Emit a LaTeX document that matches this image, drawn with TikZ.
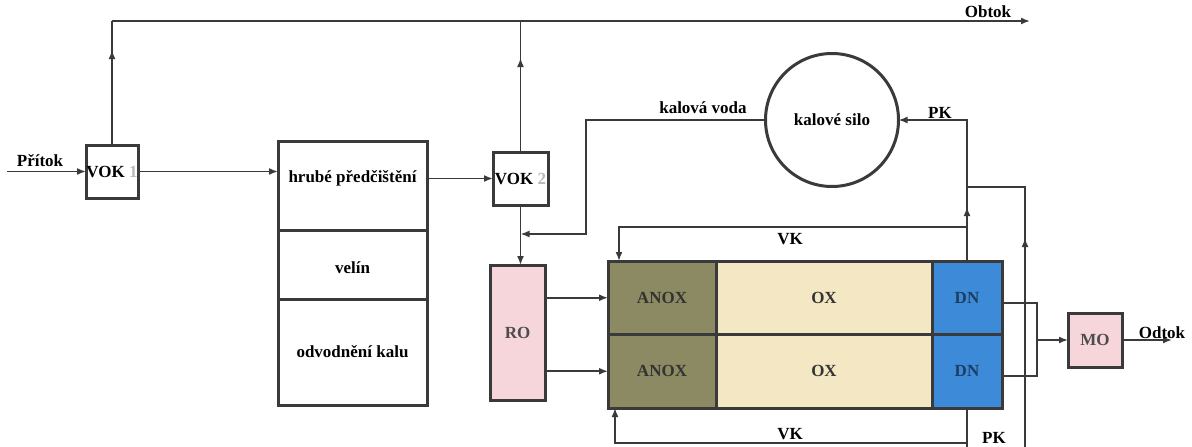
\documentclass[tikz,border=0pt]{standalone}
\usepackage{fontspec}
\setmainfont{Liberation Serif}
\usetikzlibrary{arrows.meta,decorations.markings,calc}
\definecolor{ln}{HTML}{3A3A3A}
\definecolor{anoxc}{HTML}{8C8A62}
\definecolor{oxc}{HTML}{F4E8C4}
\definecolor{dnc}{HTML}{3D8AD8}
\definecolor{pinkc}{HTML}{F7D6DB}
\begin{document}
\begin{tikzpicture}[x=1pt,y=-1pt,
  font=\fontsize{17}{19}\selectfont\bfseries,
  box/.style={draw=ln, line width=3pt, inner sep=0pt, outer sep=0pt, fill=white},
  conn/.style={draw=ln, line width=1.7pt},
  arr/.style={conn, -{Latex[length=9pt,width=7pt]}},
  midarrow/.style={postaction={decorate}, decoration={markings, mark=at position #1 with {\arrow{Latex[length=9pt,width=7pt]}}}},
  lbl/.style={anchor=base, inner sep=0pt}
]
\useasboundingbox (0,0) rectangle (1192,447);

% boxes
\node[box, minimum width=52pt, minimum height=53pt] (vok1) at (112,171.5) {VOK \textcolor{gray!55}{1}};
\node[box, minimum width=149pt, minimum height=89pt] (hrube) at (352.5,185.5) {};
\node[box, minimum width=149pt, minimum height=69pt] (velin) at (352.5,264.5) {};
\node[box, minimum width=149pt, minimum height=106pt] (odv) at (352.5,352) {};
\node (thrube) at (352.5,178) {hrubé předčištění};
\node (tvelin) at (352.5,268) {velín};
\node (todv) at (352.5,352) {odvodnění kalu};
\node[box, minimum width=55pt, minimum height=53pt] (vok2) at (520.5,178.5) {VOK \textcolor{gray!55}{2}};
\node[box, fill=pinkc, minimum width=55pt, minimum height=135pt, text=black!70] (ro) at (517.5,332.5) {RO};
\node[draw=ln, line width=3pt, circle, minimum size=133pt, inner sep=0pt, outer sep=0pt] (silo) at (832,120) {kalové silo};

% tank
\node[box, fill=anoxc, minimum width=108pt, minimum height=73.5pt, text=black!80] (anox1) at (662,297.75) {ANOX};
\node[box, fill=oxc, minimum width=216pt, minimum height=73.5pt, text=black!80] (ox1) at (824,297.75) {OX};
\node[box, fill=dnc, minimum width=70pt, minimum height=73.5pt, text=black!55!dnc] (dn1) at (967,297.75) {DN};
\node[box, fill=anoxc, minimum width=108pt, minimum height=73.5pt, text=black!80] (anox2) at (662,371.25) {ANOX};
\node[box, fill=oxc, minimum width=216pt, minimum height=73.5pt, text=black!80] (ox2) at (824,371.25) {OX};
\node[box, fill=dnc, minimum width=70pt, minimum height=73.5pt, text=black!55!dnc] (dn2) at (967,371.25) {DN};
\node[box, fill=pinkc, minimum width=54pt, minimum height=54pt, text=black!70] (mo) at (1095,340) {MO};

% coordinates
\coordinate (in) at (7,171.5);
\coordinate (ob1) at (112,21);
\coordinate (ob2) at (1030,21);
\coordinate (kv1) at (586,120);
\coordinate (kv2) at (586,234);
\coordinate (vkj) at (967,227);
\coordinate (vk1) at (619,227);
\coordinate (pkb) at (1025,447);
\coordinate (pkc) at (1025,187);
\coordinate (bv) at (967,443);
\coordinate (vkb) at (615,443);
\coordinate (dj) at (1037,340);
\coordinate (out) at (1172,340);

% connectors
\draw[arr] (in) -- (vok1.west);
\draw[arr] (vok1.east) -- (vok1.east -| hrube.west);
\draw[arr] (vok2.west -| hrube.east) -- (vok2.west);
\draw[conn, midarrow=95pt] (vok1.north) -- (ob1);
\draw[arr] (ob1) -- (ob2);
\draw[conn, midarrow=94pt] (vok2.north) -- (vok2.north |- ob1);
\draw[arr] (vok2.south) -- (vok2.south |- ro.north);
\draw[arr] (silo.west) -- (kv1) -- (kv2) -- (kv2 -| vok2.south);
\draw[arr] (anox1.west -| ro.east) -- (anox1.west);
\draw[arr] (anox2.west -| ro.east) -- (anox2.west);
\draw[arr, midarrow=54pt] (dn1.north) -- (dn1.north |- silo.east) -- (silo.east);
\draw[arr] (vkj) -- (vk1) -- (vk1 |- anox1.north);
\draw[conn, midarrow=209pt] (pkb) -- (pkc) -- (pkc -| dn1.north);
\draw[conn] (dn2.south) -- (dn2.south |- pkb);
\draw[arr] (bv) -- (vkb) -- (vkb |- anox2.south);
\draw[conn] ($(dn1.east)+(0,5)$) -| (dj);
\draw[conn] ($(dn2.east)+(0,5)$) -| (dj);
\draw[arr] (dj) -- (mo.west);
\draw[arr] (mo.east) -- (out);

% labels
\node[lbl] (lprit) at (40,166) {Přítok};
\node[lbl] (lobtok) at (988,17) {Obtok};
\node[lbl] (lkv) at (703,113) {kalová voda};
\node[lbl] (lpk1) at (940,118) {PK};
\node[lbl] (lvk1) at (790,244) {VK};
\node[lbl] (lvk2) at (790,439) {VK};
\node[lbl] (lpk2) at (994,443) {PK};
\node[lbl] (lodtok) at (1162,338) {Odtok};
\end{tikzpicture}
\end{document}
